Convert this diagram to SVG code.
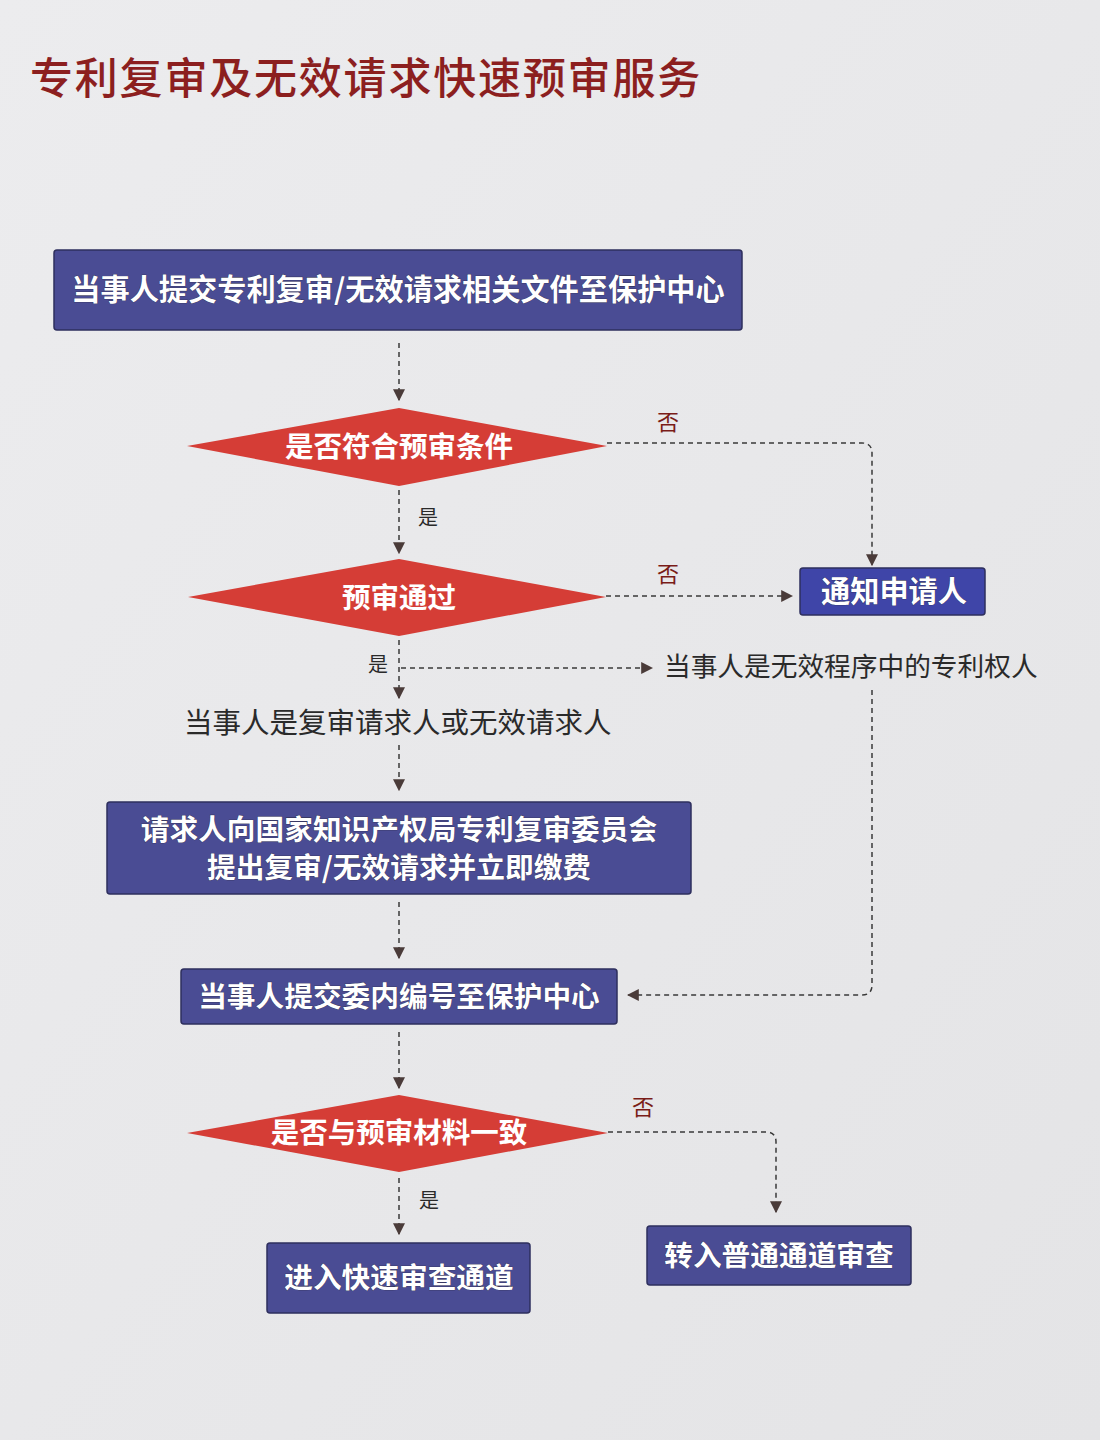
<svg xmlns="http://www.w3.org/2000/svg" width="1100" height="1440" viewBox="0 0 1100 1440">
<defs>
<linearGradient id="bg" x1="0" y1="0" x2="1" y2="1">
<stop offset="0" stop-color="#ececee"/>
<stop offset="0.5" stop-color="#e8e8ea"/>
<stop offset="1" stop-color="#e4e4e6"/>
</linearGradient>
<marker id="ah" viewBox="0 0 10 10" refX="9" refY="5" markerWidth="12" markerHeight="12" markerUnits="userSpaceOnUse" orient="auto">
<path d="M0,0 L10,5 L0,10 Z" fill="#4a3b39"/>
</marker>
<style>
.box{fill:#4a4c94;stroke:#2e2f5e;stroke-width:1.5}
.box2{fill:#3f45a8;stroke:#2e2f5e;stroke-width:1.5}
.dia{fill:#d53d36}
.bt{font-family:"Noto Sans CJK SC","Noto Sans",sans-serif;font-weight:bold;fill:#ffffff;text-anchor:middle;stroke:#2a2a40;stroke-width:0.6;paint-order:stroke;font-size:28.7px}
.dt{font-family:"Noto Sans CJK SC","Noto Sans",sans-serif;font-weight:bold;fill:#ffffff;text-anchor:middle;font-size:28.5px}
.pl{font-family:"Noto Sans CJK SC","Noto Sans",sans-serif;fill:#2a2a2a}
.no{font-family:"Noto Sans CJK SC","Noto Sans",sans-serif;fill:#7a1c18;font-size:22px;text-anchor:middle}
.yes{font-family:"Noto Sans CJK SC","Noto Sans",sans-serif;fill:#2a2a2a;font-size:20px;text-anchor:middle}
.ln{fill:none;stroke:#3a3a3a;stroke-width:1.5;stroke-dasharray:5,4;marker-end:url(#ah)}
</style>
</defs>
<rect width="1100" height="1440" fill="url(#bg)"/>
<text x="30" y="94" font-family="Noto Sans CJK SC,sans-serif" font-size="43" font-weight="500" fill="#8c1f1f" letter-spacing="1.8">专利复审及无效请求快速预审服务</text>

<g id="connectors">
<path class="ln" d="M399,343 L399,400"/>
<path class="ln" d="M607,443 L862,443 Q872,443 872,453 L872,565"/>
<path class="ln" d="M399,490 L399,553"/>
<path class="ln" d="M606,596 L792,596"/>
<path class="ln" d="M399,640 L399,698"/>
<path class="ln" d="M401,668 L652,668"/>
<path class="ln" d="M399,745 L399,790"/>
<path class="ln" d="M872,690 L872,985 Q872,995 862,995 L628,995"/>
<path class="ln" d="M399,902 L399,958"/>
<path class="ln" d="M399,1032 L399,1088"/>
<path class="ln" d="M608,1132 L766,1132 Q776,1132 776,1142 L776,1212"/>
<path class="ln" d="M399,1178 L399,1234"/>
</g>

<g id="n1"><rect class="box" x="54" y="250" width="688" height="80" rx="3"/><text class="bt" x="398" y="300" style="font-size:29.2px">当事人提交专利复审/无效请求相关文件至保护中心</text></g>

<g id="d1"><polygon class="dia" points="187,446 399,408 607,446 399,486"/><text class="dt" x="399" y="457">是否符合预审条件</text></g>
<text class="no" x="668" y="430">否</text>
<text class="yes" x="428" y="525">是</text>

<g id="d2"><polygon class="dia" points="188,597 399,559 606,597 399,636"/><text class="dt" x="399" y="608">预审通过</text></g>
<text class="no" x="668" y="582">否</text>

<g id="n2"><rect class="box2" x="800" y="568" width="185" height="47" rx="3"/><text class="bt" x="894" y="602" style="font-size:29.2px">通知申请人</text></g>

<text class="yes" x="378" y="672">是</text>
<g id="t1"><text class="pl" x="664" y="676" font-size="26.7">当事人是无效程序中的专利权人</text></g>
<g id="t2"><text class="pl" x="184" y="733" font-size="28.5">当事人是复审请求人或无效请求人</text></g>

<g id="n3"><rect class="box" x="107" y="802" width="584" height="92" rx="3"/>
<text class="bt" x="399" y="840">请求人向国家知识产权局专利复审委员会</text>
<text class="bt" x="399" y="878">提出复审/无效请求并立即缴费</text></g>

<g id="n4"><rect class="box" x="181" y="969" width="436" height="55" rx="3"/><text class="bt" x="399" y="1007">当事人提交委内编号至保护中心</text></g>

<g id="d3"><polygon class="dia" points="187,1133 399,1095 608,1133 399,1172"/><text class="dt" x="399" y="1143">是否与预审材料一致</text></g>
<text class="no" x="643" y="1115" font-size="19">否</text>
<text class="yes" x="429" y="1208">是</text>

<g id="n5"><rect class="box" x="267" y="1243" width="263" height="70" rx="3"/><text class="bt" x="399" y="1288">进入快速审查通道</text></g>
<g id="n6"><rect class="box" x="647" y="1226" width="264" height="59" rx="3"/><text class="bt" x="779" y="1266">转入普通通道审查</text></g>
</svg>
